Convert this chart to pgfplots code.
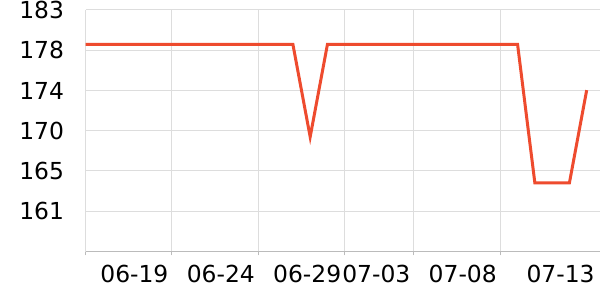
\documentclass[border=0pt]{standalone}
\usepackage{pgfplots}
\pgfplotsset{compat=1.18}
\usepackage{fontspec}
\setmainfont{DejaVu Sans}
\definecolor{lineC}{HTML}{EE4B2E}
\definecolor{gridC}{HTML}{DDDDDD}
\definecolor{axC}{HTML}{BBBBBB}
\begin{document}
\begin{tikzpicture}[x=1bp,y=1bp]
\begin{axis}[
  at={(85.5bp,48.5bp)}, anchor=south west,
  scale only axis, width=514.5bp, height=241.5bp,
  xmin=0, xmax=29.77, ymin=156.6, ymax=183,
  axis lines*=left,
  x axis line style={draw=axC, line width=1bp, -},
  y axis line style={draw=gridC, line width=1bp, -},
  xtick={0,5,10,15,19,24},
  xticklabels={,06-19,06-24,{06-29\hspace{7bp}},07-03,07-08},
  extra x ticks={29.66},
  extra x tick labels={07-13},
  extra x tick style={grid=none, x tick style={draw=none}},
  xticklabel style={anchor=north east, font=\fontsize{23.5}{26}\selectfont, yshift=-6bp},
  ytick={161,165.4,169.8,174.2,178.6,183},
  yticklabels={161,165,170,174,178,183},
  yticklabel style={font=\fontsize{23.5}{26}\selectfont, xshift=-14bp},
  ymajorgrids, xmajorgrids,
  major grid style={draw=gridC, line width=1bp},
  x tick style={draw=axC, line width=1bp},
  major tick length=4bp,
  ytick style={draw=none},
  tick align=outside,
  clip=false,
  /pgf/number format/assume math mode=true,
]
\addplot[lineC, line width=3bp, mark=none] coordinates {
(0,179.25)(1,179.25)(2,179.25)(3,179.25)(4,179.25)(5,179.25)(6,179.25)(7,179.25)(8,179.25)(9,179.25)(10,179.25)(11,179.25)(12,179.25)
(13,169.13)
(14,179.25)(15,179.25)(16,179.25)(17,179.25)(18,179.25)(19,179.25)(20,179.25)(21,179.25)(22,179.25)(23,179.25)(24,179.25)(25,179.25)
(26,164.1)(27,164.1)(28,164.1)
(29,174.24)
};
\end{axis}
\pgfresetboundingbox
\path (0,0) rectangle (600bp,300bp);
\end{tikzpicture}
\end{document}
